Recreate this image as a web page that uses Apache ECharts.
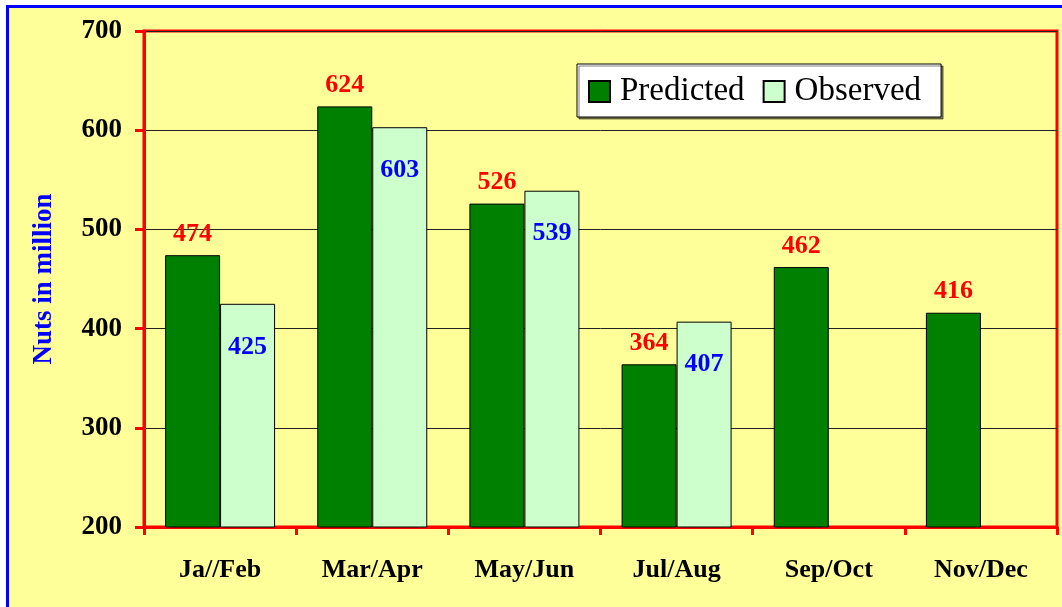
<!DOCTYPE html>
<html><head><meta charset="utf-8">
<script src="https://cdn.jsdelivr.net/npm/echarts@6/dist/echarts.min.js"></script>
<style>html,body{margin:0;padding:0;background:#fff;}#c{width:1062px;height:607px;}</style>
</head><body><div id="c"></div>
<script>
const categories = ['Ja//Feb','Mar/Apr','May/Jun','Jul/Aug','Sep/Oct','Nov/Dec'];
const predicted = [474, 624, 526, 364, 462, 416];
const observed = [425, 603, 539, 407, null, null];
const yTicks = [200, 300, 400, 500, 600, 700];

const font = 'Liberation Serif, Times New Roman, serif';
const chart = echarts.init(document.getElementById('c'));
chart.setOption({
  animation: false,
  backgroundColor: '#fff',
  graphic: [{
    type: 'rect', z: -10, silent: true,
    shape: {x: 7.5, y: 6.5, width: 1080, height: 620},
    style: {fill: '#FFFF99', stroke: '#0000FF', lineWidth: 3}
  }],
  grid: {left: 144, top: 31, right: 5, bottom: 80, show: true, borderColor: '#FF0000', borderWidth: 3, backgroundColor: 'transparent'},
  legend: {
    left: 577, top: 64, padding: [11, 20, 9, 11],
    backgroundColor: '#fff', borderColor: '#000', borderWidth: 1,
    shadowColor: 'rgba(0,0,0,0.5)', shadowOffsetX: 2, shadowOffsetY: 2, shadowBlur: 0,
    itemWidth: 21, itemHeight: 21, itemGap: 18,
    icon: 'rect',
    textStyle: {fontFamily: font, fontSize: 33, color: '#000', padding: [0, 0, 0, 5]},
    data: ['Predicted', 'Observed']
  },
  xAxis: {
    type: 'category', data: categories,
    axisLine: {lineStyle: {color: '#FF0000', width: 3}},
    axisTick: {show: true, length: 8, lineStyle: {color: '#FF0000', width: 3}},
    axisLabel: {margin: 30, fontFamily: font, fontWeight: 'bold', fontSize: 26, color: '#000'}
  },
  yAxis: {
    type: 'value', min: yTicks[0], max: yTicks[yTicks.length-1], interval: 100,
    name: 'Nuts in million', nameLocation: 'middle', nameGap: 86, nameRotate: 90,
    nameTextStyle: {fontFamily: font, fontWeight: 'bold', fontSize: 27, color: '#0000FF'},
    axisLine: {show: true, lineStyle: {color: '#FF0000', width: 3}},
    axisTick: {show: true, length: 9, lineStyle: {color: '#FF0000', width: 3}},
    axisLabel: {margin: 22, fontFamily: font, fontWeight: 'bold', fontSize: 27, color: '#000'},
    splitLine: {show: true, lineStyle: {color: '#222', width: 1}}
  },
  series: [{
    name: 'Predicted', type: 'bar', data: predicted, barWidth: 55, barGap: '0%',
    itemStyle: {color: '#008000', borderColor: '#000', borderWidth: 1},
    label: {show: true, position: 'top', distance: 8, fontFamily: font, fontWeight: 'bold', fontSize: 26, color: '#FF0000'}
  }, {
    name: 'Observed', type: 'bar', data: observed, barWidth: 55,
    itemStyle: {color: '#CCFFCC', borderColor: '#000', borderWidth: 1},
    label: {show: true, position: 'insideTop', distance: 30, fontFamily: font, fontWeight: 'bold', fontSize: 26, color: '#0000FF'}
  }]
});
</script></body></html>
